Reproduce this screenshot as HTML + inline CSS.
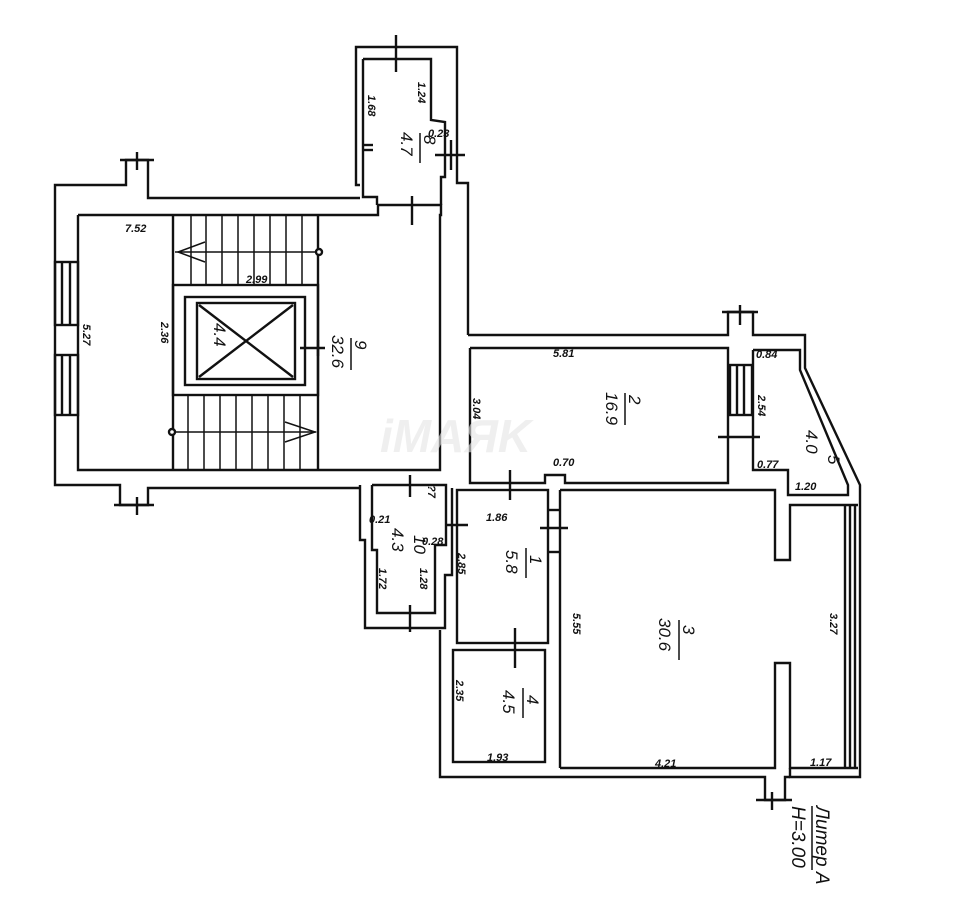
<!DOCTYPE html>
<html><head><meta charset="utf-8"><style>
html,body{margin:0;padding:0;background:#fff;}
svg{display:block;}
text{font-family:"Liberation Sans",sans-serif;font-style:italic;fill:#111;}
</style></head><body>
<svg width="960" height="909" viewBox="0 0 960 909" xmlns="http://www.w3.org/2000/svg">
<g fill="none" stroke="#111" stroke-width="2.4">
<polyline points="360,198 148,198 148,185 148,160 126,160 126,185 55,185 55,485 120,485 120,505 148,505 148,488 360,488"/>
<line x1="120" y1="160" x2="154" y2="160"/><line x1="137" y1="152" x2="137" y2="170"/>
<line x1="114" y1="505" x2="154" y2="505"/><line x1="137" y1="497" x2="137" y2="515"/>
<polyline points="78,215 378,215 378,205 441,205 441,215 440,215 440,470 360,470 360,470 78,470 78,215"/>
<rect x="55" y="262" width="23" height="63"/><rect x="55" y="355" width="23" height="60"/>
<line x1="62" y1="262" x2="62" y2="325"/><line x1="70" y1="262" x2="70" y2="325"/>
<line x1="62" y1="355" x2="62" y2="415"/><line x1="70" y1="355" x2="70" y2="415"/>
<line x1="173" y1="215" x2="173" y2="470"/><line x1="318" y1="215" x2="318" y2="470"/>
<rect x="173" y="285" width="145" height="110"/>
<rect x="185" y="297" width="120" height="88"/>
<rect x="197" y="303" width="98" height="76"/>
<line x1="199" y1="305" x2="293" y2="377"/><line x1="293" y1="305" x2="199" y2="377"/>
<g stroke-width="1.5">
<line x1="191" y1="215" x2="191" y2="285"/><line x1="206" y1="215" x2="206" y2="285"/><line x1="222" y1="215" x2="222" y2="285"/><line x1="238" y1="215" x2="238" y2="285"/><line x1="254" y1="215" x2="254" y2="285"/><line x1="270" y1="215" x2="270" y2="285"/><line x1="286" y1="215" x2="286" y2="285"/><line x1="302" y1="215" x2="302" y2="285"/>
<line x1="188" y1="395" x2="188" y2="470"/><line x1="204" y1="395" x2="204" y2="470"/><line x1="220" y1="395" x2="220" y2="470"/><line x1="236" y1="395" x2="236" y2="470"/><line x1="252" y1="395" x2="252" y2="470"/><line x1="268" y1="395" x2="268" y2="470"/><line x1="284" y1="395" x2="284" y2="470"/><line x1="300" y1="395" x2="300" y2="470"/>
<line x1="175" y1="252" x2="318" y2="252"/><polyline points="205,242 178,252 205,262"/>
<line x1="173" y1="432" x2="316" y2="432"/><polyline points="285,422 315,432 285,442"/>
</g>
<circle cx="319" cy="252" r="3" fill="#fff"/><circle cx="172" cy="432" r="3" fill="#fff"/>
<line x1="300" y1="348" x2="325" y2="348"/><line x1="318" y1="340" x2="318" y2="356"/>
<polyline points="360,185 356,185 356,47 457,47 457,183 468,183 468,335"/>
<polyline points="363,59 431,59 431,120 445,122 445,177 441,177 441,205"/>
<polyline points="363,59 363,197 377,197 377,205"/>
<line x1="363" y1="145" x2="373" y2="145"/><line x1="363" y1="150" x2="373" y2="150"/>
<line x1="396" y1="35" x2="396" y2="72"/><line x1="412" y1="196" x2="412" y2="225"/>
<line x1="435" y1="155" x2="465" y2="155"/><line x1="451" y1="140" x2="451" y2="170"/>
<polyline points="468,335 728,335 728,312 753,312 753,335 805,335 805,368 860,485 860,777 790,777 790,768"/>
<polyline points="753,350 800,350 800,370 848,485 848,495 788,495 788,470 753,470 753,350"/>
<line x1="722" y1="312" x2="758" y2="312"/><line x1="740" y1="305" x2="740" y2="325"/>
<rect x="730" y="365" width="22" height="50"/><line x1="737" y1="365" x2="737" y2="415"/><line x1="744" y1="365" x2="744" y2="415"/>
<line x1="718" y1="437" x2="760" y2="437"/>
<polyline points="470,348 728,348 728,483 565,483 565,475 545,475 545,483 470,483 470,348"/>
<line x1="510" y1="470" x2="510" y2="500"/>
<polyline points="560,490 775,490 775,560 790,560 790,505 858,505"/>
<line x1="560" y1="490" x2="560" y2="768"/>
<polyline points="560,768 775,768 775,663 790,663 790,768 858,768"/>
<line x1="845" y1="505" x2="845" y2="768"/><line x1="850" y1="505" x2="850" y2="768"/><line x1="855" y1="505" x2="855" y2="768"/>
<polyline points="440,630 440,777 765,777 765,800 785,800 785,777 790,777"/>
<line x1="756" y1="800" x2="792" y2="800"/><line x1="772" y1="792" x2="772" y2="810"/>
<rect x="457" y="490" width="91" height="153"/>
<line x1="548" y1="510" x2="560" y2="510"/><line x1="548" y1="552" x2="560" y2="552"/>
<line x1="540" y1="528" x2="568" y2="528"/><line x1="445" y1="525" x2="468" y2="525"/>
<line x1="515" y1="628" x2="515" y2="668"/>
<rect x="453" y="650" width="92" height="112"/>
<polyline points="360,485 360,540 365,540 365,628 445,628 445,575 452,575 452,488"/>
<polyline points="372,485 446,485 446,545 435,545 435,613 377,613 377,550 372,550 372,485"/>
<line x1="410" y1="605" x2="410" y2="632"/><line x1="410" y1="475" x2="410" y2="497"/>
</g>
<g font-size="11" font-weight="bold">
<text x="125" y="232">7.52</text>
<text x="246" y="283">2.99</text>
<text x="428" y="137">0.23</text>
<text x="553" y="357">5.81</text>
<text x="756" y="358">0.84</text>
<text x="757" y="468">0.77</text>
<text x="795" y="490">1.20</text>
<text x="553" y="466">0.70</text>
<text x="486" y="521">1.86</text>
<text x="369" y="523">0.21</text>
<text x="422" y="545">0.28</text>
<text x="487" y="761">1.93</text>
<text x="655" y="767">4.21</text>
<text x="810" y="766">1.17</text>
</g>
<g font-size="11" font-weight="bold">
<text transform="translate(83,324) rotate(90)">5.27</text>
<text transform="translate(161,322) rotate(90)">2.36</text>
<text transform="translate(368,95) rotate(90)">1.68</text>
<text transform="translate(418,82) rotate(90)">1.24</text>
<text transform="translate(473,398) rotate(90)">3.04</text>
<text transform="translate(758,395) rotate(90)">2.54</text>
<text transform="translate(428,485) rotate(90)">?7</text>
<text transform="translate(420,568) rotate(90)">1.28</text>
<text transform="translate(379,568) rotate(90)">1.72</text>
<text transform="translate(458,553) rotate(90)">2.85</text>
<text transform="translate(456,680) rotate(90)">2.35</text>
<text transform="translate(573,613) rotate(90)">5.55</text>
<text transform="translate(830,613) rotate(90)">3.27</text>
</g>
<g font-size="17">
<text transform="translate(355,340) rotate(90)">9</text>
<line x1="351" y1="338" x2="351" y2="370" stroke="#111" stroke-width="1.5"/>
<text transform="translate(332,335) rotate(90)">32.6</text>
<text transform="translate(629,395) rotate(90)">2</text>
<line x1="625" y1="393" x2="625" y2="425" stroke="#111" stroke-width="1.5"/>
<text transform="translate(606,392) rotate(90)">16.9</text>
<text transform="translate(530,555) rotate(90)">1</text>
<line x1="526" y1="548" x2="526" y2="578" stroke="#111" stroke-width="1.5"/>
<text transform="translate(506,550) rotate(90)">5.8</text>
<text transform="translate(527,695) rotate(90)">4</text>
<line x1="523" y1="688" x2="523" y2="718" stroke="#111" stroke-width="1.5"/>
<text transform="translate(503,690) rotate(90)">4.5</text>
<text transform="translate(683,625) rotate(90)">3</text>
<line x1="679" y1="620" x2="679" y2="660" stroke="#111" stroke-width="1.5"/>
<text transform="translate(659,618) rotate(90)">30.6</text>
<text transform="translate(424,135) rotate(90)">8</text>
<line x1="420" y1="133" x2="420" y2="163" stroke="#111" stroke-width="1.5"/>
<text transform="translate(401,132) rotate(90)">4.7</text>
<text transform="translate(414,535) rotate(90)">10</text>
<text transform="translate(392,528) rotate(90)">4.3</text>
<text transform="translate(828,455) rotate(90)">5</text>
<text transform="translate(806,430) rotate(90)">4.0</text>
<text transform="translate(214,323) rotate(90)">4.4</text>
</g>
<g font-size="19">
<text transform="translate(816,806) rotate(90)">Литер А</text>
<line x1="812" y1="806" x2="812" y2="870" stroke="#111" stroke-width="1.5"/>
<text transform="translate(792,806) rotate(90)">H=3.00</text>
</g>
<text x="380" y="452" font-size="46" font-style="normal" font-weight="bold" style="fill:#e6e6e6" opacity="0.6">iMAЯK</text>
</svg>
</body></html>
